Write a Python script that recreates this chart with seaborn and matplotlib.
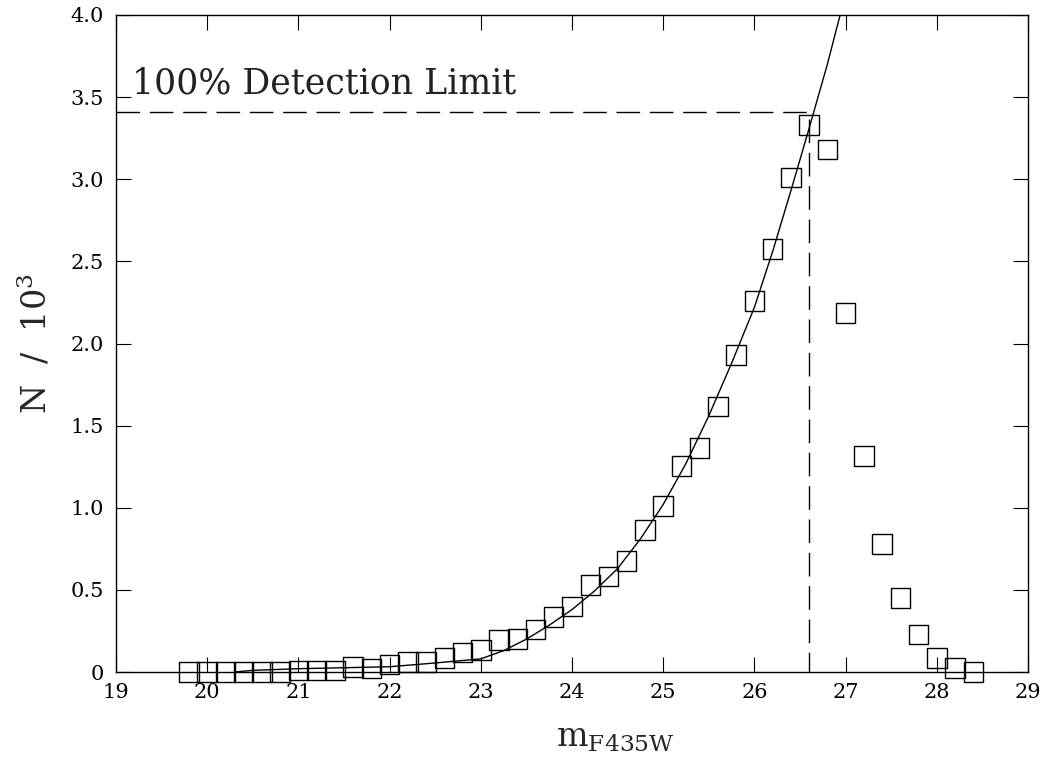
import matplotlib
matplotlib.use("Agg")
import matplotlib.pyplot as plt
import seaborn as sns

# ---- data ----
mag = [19.8, 20.0, 20.2, 20.4, 20.6, 20.8, 21.0, 21.2, 21.4, 21.6, 21.8,
       22.0, 22.2, 22.4, 22.6, 22.8, 23.0, 23.2, 23.4, 23.6, 23.8, 24.0,
       24.2, 24.4, 24.6, 24.8, 25.0, 25.2, 25.4, 25.6, 25.8, 26.0, 26.2,
       26.4, 26.6, 26.8, 27.0, 27.2, 27.4, 27.6, 27.8, 28.0, 28.2, 28.4]
counts = [0.0, 0.0, 0.0, 0.0, 0.0, 0.0, 0.01, 0.01, 0.01, 0.03, 0.02,
          0.045, 0.06, 0.06, 0.085, 0.12, 0.135, 0.195, 0.20, 0.26, 0.335, 0.40,
          0.53, 0.58, 0.675, 0.865, 1.01, 1.255, 1.365, 1.615, 1.93, 2.26, 2.575,
          3.01, 3.33, 3.18, 2.185, 1.315, 0.78, 0.45, 0.23, 0.085, 0.025, 0.0]

fit_mag = [20.3, 20.5, 21.0, 21.5, 22.0, 22.5, 23.0, 23.25, 23.5, 23.75, 24.0,
           24.25, 24.5, 24.75, 25.0, 25.25, 25.5, 25.75, 26.0, 26.2, 26.4,
           26.6, 26.8, 26.94]
fit_counts = [0.0, 0.01, 0.02, 0.026, 0.032, 0.055, 0.08, 0.13, 0.20, 0.285, 0.38,
              0.495, 0.63, 0.81, 1.02, 1.27, 1.56, 1.88, 2.22, 2.56, 2.93,
              3.31, 3.70, 4.0]

limit_mag = 26.6
limit_count = 3.41

x_ticks = [19, 20, 21, 22, 23, 24, 25, 26, 27, 28, 29]
x_tick_labels = ["19", "20", "21", "22", "23", "24", "25", "26", "27", "28", "29"]
y_ticks = [0, 0.5, 1.0, 1.5, 2.0, 2.5, 3.0, 3.5, 4.0]
y_tick_labels = ["0", "0.5", "1.0", "1.5", "2.0", "2.5", "3.0", "3.5", "4.0"]

# ---- style ----
sns.set_theme(style="ticks")
plt.rcParams["font.family"] = ["DejaVu Serif"]
plt.rcParams["mathtext.fontset"] = "dejavuserif"

fig = plt.figure(figsize=(10.47, 7.61), dpi=100)
ax = fig.add_axes([116 / 1047, 1 - 672 / 761, (1028 - 116) / 1047, (672 - 15) / 761])

# fit curve
sns.lineplot(x=fit_mag, y=fit_counts, ax=ax, color="black", linewidth=1.0)

# detection-limit dashed lines
ax.plot([19, limit_mag, limit_mag], [limit_count, limit_count, 0],
        color="black", linewidth=1.0, linestyle=(0, (17, 7)))

# data points
sns.scatterplot(x=mag, y=counts, ax=ax, marker="s", s=196,
                facecolor="none", edgecolor="black", linewidth=1.0,
                clip_on=False, zorder=3)

ax.text(19.175, 3.525, "100% Detection Limit", fontsize=25, color="#222222",
        ha="left", va="baseline")

ax.set_xlim(19, 29)
ax.set_ylim(0, 4.0)
ax.set_xticks(x_ticks)
ax.set_xticklabels(x_tick_labels)
ax.set_yticks(y_ticks)
ax.set_yticklabels(y_tick_labels)
ax.minorticks_off()

ax.tick_params(which="major", direction="in", length=11, width=0.8,
               top=True, right=True, labelsize=15, colors="black")
ax.tick_params(axis="x", pad=8)
ax.tick_params(axis="y", pad=9)
for sp in ax.spines.values():
    sp.set_visible(True)
    sp.set_linewidth(1.0)
    sp.set_color("black")

ax.set_xlabel(r"$\mathregular{m_{F435W}}$", fontsize=24)
ax.xaxis.set_label_coords(0.548, -0.076)
ax.set_ylabel(r"N  /  10$^3$", fontsize=24)
ax.yaxis.set_label_coords(-0.069, 0.5)

fig.savefig("out.png", dpi=100, facecolor="white")
